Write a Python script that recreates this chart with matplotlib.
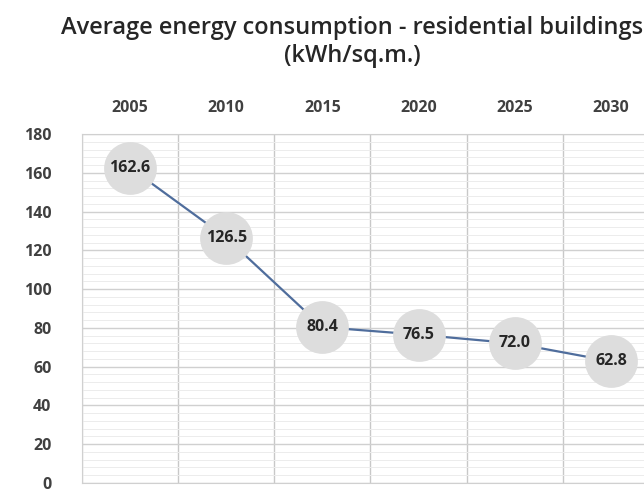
import matplotlib.pyplot as plt
import numpy as np

years = ["2005", "2010", "2015", "2020", "2025", "2030"]
consumption = [162.6, 126.5, 80.4, 76.5, 72.0, 62.8]
y_ticks = [0, 20, 40, 60, 80, 100, 120, 140, 160, 180]

plt.rcParams["font.family"] = ["Open Sans", "DejaVu Sans"]

fig = plt.figure(figsize=(6.44, 4.93), dpi=100)
ax = fig.add_axes([82 / 644, 10 / 493, 577 / 644, 349 / 493])

x = np.arange(len(years))
ax.plot(x, consumption, color="#4f6d9c", lw=1.6, zorder=2)
ax.plot(x, consumption, "o", ms=38, color="#dddddd", mec="none", zorder=3)
for xi, v in zip(x, consumption):
    ax.text(xi, v, f"{v:.1f}", ha="center", va="center", fontsize=11.5,
            fontweight="bold", color="#262626", zorder=4)

ax.set_xlim(-0.5, len(years) - 0.5)
ax.set_ylim(0, 180)
ax.set_yticks(y_ticks)
ax.set_yticks(np.arange(0, 181, 4), minor=True)
ax.set_xticks(x)
ax.set_xticklabels(years)
ax.set_xticks(np.arange(-0.5, len(years)), minor=True)
ax.xaxis.tick_top()

ax.tick_params(axis="x", which="both", length=0, pad=13, labelsize=11.5,
               labelcolor="#404040")
ax.tick_params(axis="y", which="both", length=0, pad=22, labelsize=11.5,
               labelcolor="#404040")
for lab in ax.get_xticklabels() + ax.get_yticklabels():
    lab.set_fontweight("bold")

ax.grid(axis="y", which="major", color="#d0d0d0", lw=1.0)
ax.grid(axis="y", which="minor", color="#ececec", lw=0.7)
ax.grid(axis="x", which="minor", color="#c8c8c8", lw=1.0)
for s in ax.spines.values():
    s.set_color("#d0d0d0")
ax.set_axisbelow(True)

fig.text(352 / 644, 1 - 28 / 493, "Average energy consumption - residential buildings",
         ha="center", va="center", fontsize=17, fontweight="semibold", color="#262626")
fig.text(352 / 644, 1 - 56 / 493, "(kWh/sq.m.)",
         ha="center", va="center", fontsize=17, fontweight="semibold", color="#262626")

fig.savefig("out.png", dpi=100)
